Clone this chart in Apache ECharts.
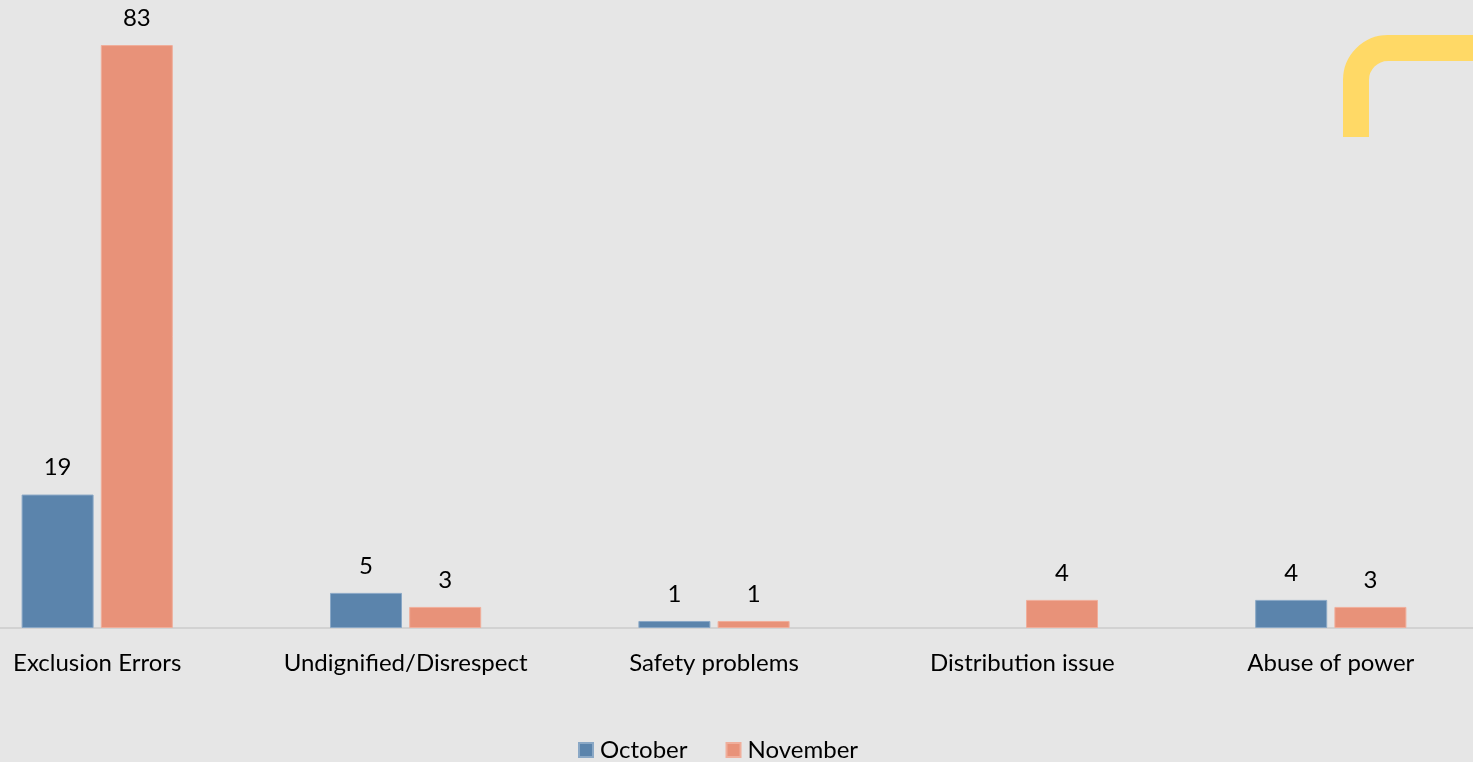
<!DOCTYPE html>
<html>
<head>
<meta charset="utf-8">
<script src="https://cdn.jsdelivr.net/npm/echarts@6/dist/echarts.min.js"></script>
<style>
  html, body { margin: 0; padding: 0; background: #e6e6e6; overflow: hidden; width: 1473px; height: 762px; position: relative; }
  /* the plot runs a little past both page edges, so the canvas is wider than the page */
  #chart { position: absolute; left: -57px; top: 0; width: 1542px; height: 762px; }
</style>
</head>
<body>
<div id="chart"></div>
<script>
// Complaint categories and monthly counts
const categories = ['Exclusion Errors', 'Undignified/Disrespect', 'Safety problems', 'Distribution issue', 'Abuse of power'];
const october = [19, 5, 1, null, 4];
const november = [83, 3, 1, 4, 3];

const FONT = 'Lato, "Open Sans", sans-serif';
const SHIFT = 57; // canvas x offset relative to the page

const chart = echarts.init(document.getElementById('chart'));

const labelStyle = {
  show: true,
  position: 'top',
  distance: 15,
  color: '#000',
  fontSize: 24,
  fontFamily: FONT
};

// Yellow rounded corner ornament in the top right
const ornamentStyle = { fill: null, stroke: '#FFD966', lineWidth: 26, lineCap: 'butt' };

chart.setOption({
  backgroundColor: '#e6e6e6',
  animation: false,
  grid: { left: 0, right: 0, top: 31, bottom: 134, containLabel: false },
  legend: {
    top: 733,
    left: 578 + SHIFT - 5,
    itemWidth: 14,
    itemHeight: 14,
    itemGap: 38,
    icon: 'rect',
    textStyle: { fontSize: 24, fontFamily: FONT, color: '#000', padding: [0, 0, 0, 2] },
    data: ['October', 'November']
  },
  xAxis: {
    type: 'category',
    data: categories,
    axisLine: { lineStyle: { color: '#d2d2d2', width: 2 } },
    axisTick: { show: false },
    axisLabel: { color: '#000', fontSize: 24, fontFamily: FONT, margin: 23, interval: 0 }
  },
  yAxis: {
    type: 'value',
    min: 0,
    max: 85,
    show: false,
    splitLine: { show: false }
  },
  series: [
    {
      name: 'October',
      type: 'bar',
      data: october,
      barWidth: 72,
      barGap: '10%',
      itemStyle: { color: '#5B84AC', borderColor: '#8aa8c6', borderWidth: 1 },
      label: labelStyle
    },
    {
      name: 'November',
      type: 'bar',
      data: november,
      barWidth: 72,
      itemStyle: { color: '#E89279', borderColor: '#f0ae9b', borderWidth: 1 },
      label: labelStyle
    }
  ],
  graphic: [
    {
      type: 'line', silent: true,
      shape: { x1: 1356 + SHIFT, y1: 137, x2: 1356 + SHIFT, y2: 80 },
      style: ornamentStyle
    },
    {
      type: 'arc', silent: true,
      shape: { cx: 1388 + SHIFT, cy: 80, r: 32, startAngle: Math.PI, endAngle: Math.PI * 1.5, clockwise: true },
      style: ornamentStyle
    },
    {
      type: 'line', silent: true,
      shape: { x1: 1388 + SHIFT, y1: 48, x2: 1480 + SHIFT, y2: 48 },
      style: ornamentStyle
    }
  ]
});
</script>
</body>
</html>
